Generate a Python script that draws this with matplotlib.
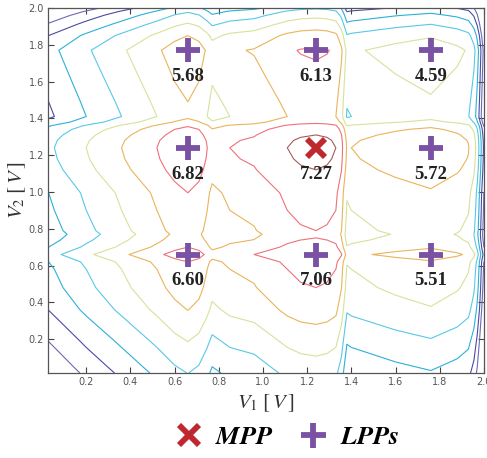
import numpy as np
import matplotlib
matplotlib.use('Agg')
import matplotlib.pyplot as plt
from matplotlib.lines import Line2D

matplotlib.rcParams['mathtext.fontset'] = 'stix'

# power map, taken as P(V1, V2) = f(V1) + g(V2)
v1_knots = [0.027, 0.20, 0.36, 0.52, 0.60, 0.66, 0.71, 0.745, 0.77, 0.80, 0.85, 0.96,
            1.11, 1.17, 1.24, 1.29, 1.33, 1.355, 1.38, 1.40, 1.60, 1.76, 1.88, 1.93,
            1.955, 1.97, 1.98, 1.99, 2.0]
f_v1 = [2.8, 4.0, 5.0, 6.0, 6.55, 6.82, 6.55, 6.05, 5.6, 5.75, 6.0, 6.21,
        7.0, 7.19, 7.27, 7.19, 7.0, 6.3, 4.9, 5.0, 5.45, 5.72, 5.35, 5.05,
        4.4, 3.6, 2.8, 1.8, 0.8]

v2_knots = [0.016, 0.05, 0.19, 0.36, 0.48, 0.58, 0.62, 0.66, 0.70, 0.74, 0.77, 0.79,
            0.90, 0.995, 1.12, 1.18, 1.24, 1.28, 1.31, 1.34, 1.36, 1.38, 1.41, 1.49,
            1.62, 1.77, 1.85, 1.91, 1.96, 1.98, 2.0]
g_v2 = [-3.8, -3.6, -2.8, -1.8, -1.27, -1.0, -0.82, -0.21, -0.82, -1.2, -1.4, -1.27,
        -1.0, -0.82, -0.27, -0.09, 0.0, -0.09, -0.27, -0.55, -0.9, -1.5, -2.0, -1.82,
        -1.5, -1.14, -1.82, -2.7, -3.5, -3.9, -4.4]

# local peaks (rows: V2, cols: V1)
peak_v1 = [0.66, 1.24, 1.76]
peak_v2 = [0.66, 1.24, 1.77]
peak_p = [[6.60, 7.06, 5.51],
          [6.82, 7.27, 5.72],
          [5.68, 6.13, 4.59]]
mpp_idx = (1, 1)

levels = [0, 1, 2, 3, 4, 5, 6, 7]
level_colors = ['#6a6ab8', '#4a4aa6', '#2cb0d8', '#58c8e6', '#d5e39a', '#e9b45a', '#f0707a', '#a85a5a']

purple = '#7b52a3'
red = '#c0282f'

fig = plt.figure(figsize=(4.87, 4.58), dpi=100)
ax = fig.add_axes([0.0986, 0.1856, 0.895, 0.797])

Z = np.add.outer(np.array(g_v2), np.array(f_v1))
ax.contour(v1_knots, v2_knots, Z, levels=levels, colors=level_colors, linewidths=0.8)

for j, v2 in enumerate(peak_v2):
    for i, v1 in enumerate(peak_v1):
        if (j, i) == mpp_idx:
            ax.plot(v1, v2, marker='x', color=red, ms=13, mew=4.2, zorder=5)
        else:
            ax.plot(v1, v2, marker='+', color=purple, ms=17, mew=4.2, zorder=5)
        ax.annotate('%.2f' % peak_p[j][i], (v1, v2), xytext=(0, -19), textcoords='offset points',
                    ha='center', va='center', fontsize=13.5, fontweight='bold',
                    family='Liberation Serif', color='#222222', zorder=6)

ax.set_xlim(0.027, 2.0)
ax.set_ylim(0.016, 2.0)
ticks = np.arange(0.2, 2.01, 0.2)
ax.set_xticks(ticks)
ax.set_yticks(ticks)
ax.set_xticklabels(['%.1f' % t for t in ticks])
ax.set_yticklabels(['%.1f' % t for t in ticks])
ax.tick_params(direction='in', length=4, width=0.8, top=True, right=True,
               labelsize=7, labelcolor='#555555', color='#444444', pad=3)
for lab in ax.get_xticklabels() + ax.get_yticklabels():
    lab.set_family(['Liberation Sans Narrow', 'DejaVu Sans'])
for s in ax.spines.values():
    s.set_color('#555555')
    s.set_linewidth(0.9)

ax.set_xlabel(r'$V_1\ [\,V\,]$', fontsize=15, color='#333333', labelpad=4)
ax.set_ylabel(r'$V_2\ [\,V\,]$', fontsize=15, color='#333333')
ax.yaxis.set_label_coords(-0.045, 0.5)

handles = [Line2D([], [], ls='none', marker='x', color=red, ms=14, mew=4.2),
           Line2D([], [], ls='none', marker='+', color=purple, ms=18, mew=4.2)]
fig.legend(handles, [r'$\boldsymbol{MPP}$', r'$\boldsymbol{LPPs}$'], loc='center',
           bbox_to_anchor=(0.59, 0.045), ncol=2, frameon=False, handlelength=1.0,
           handletextpad=0.5, columnspacing=1.0,
           prop={'family': 'Liberation Serif', 'style': 'italic', 'weight': 'bold', 'size': 19})

fig.savefig('out.png', dpi=100)
